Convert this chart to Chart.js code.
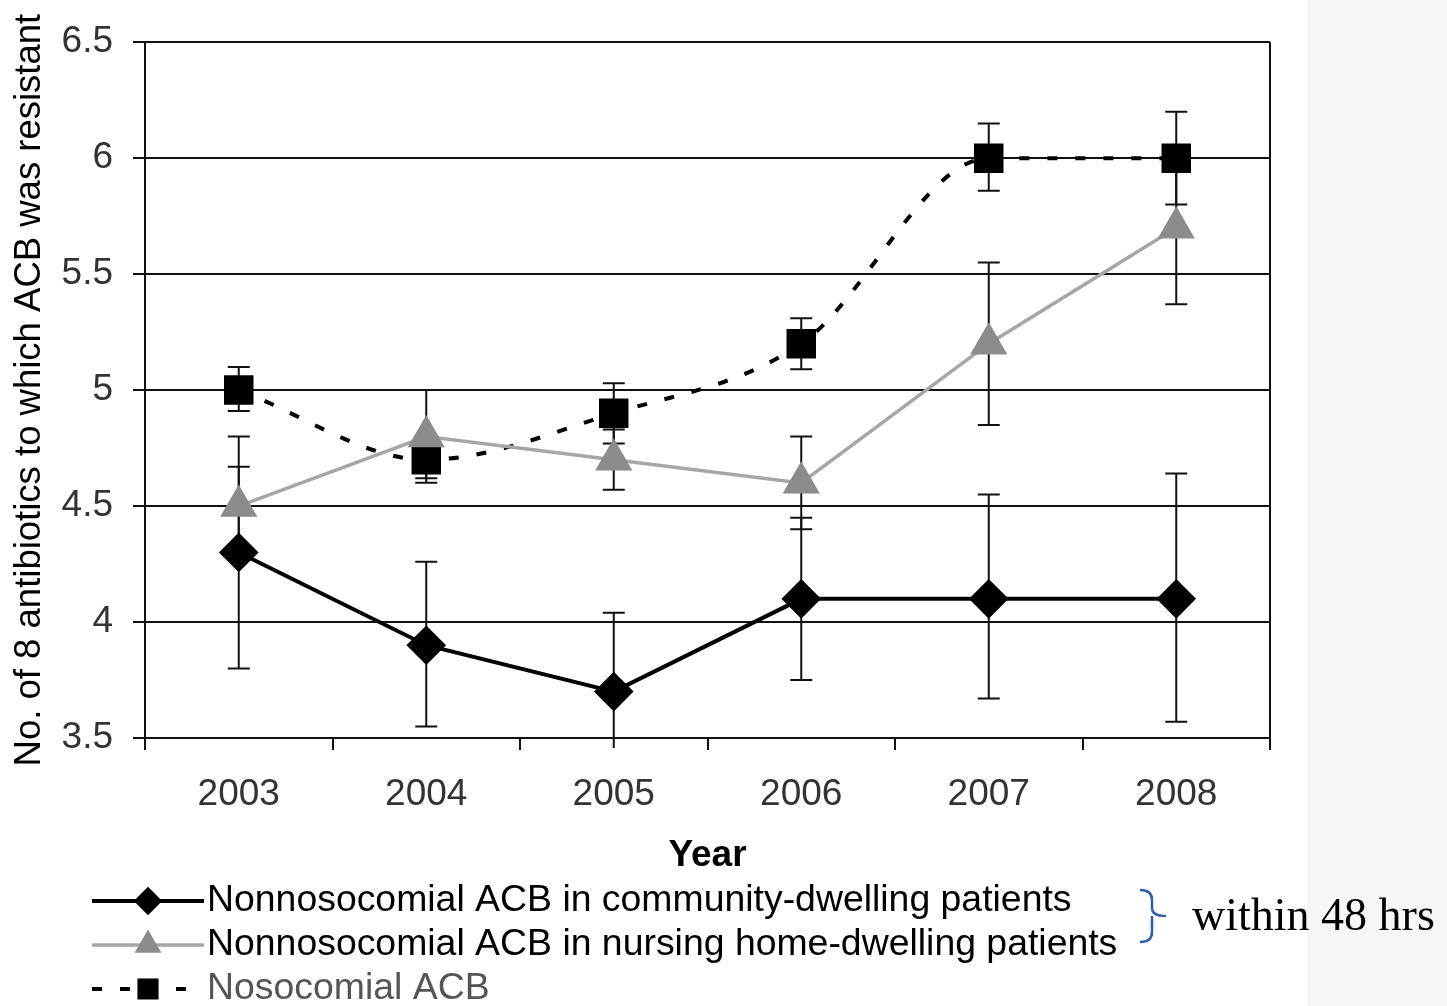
<!DOCTYPE html>
<html>
<head>
<meta charset="utf-8">
<script src="https://cdn.jsdelivr.net/npm/chart.js@4.4.1/dist/chart.umd.min.js"></script>
<style>
html, body { margin: 0; padding: 0; background: #fff; }
#wrap { width: 1447px; height: 1006px; position: relative; }
</style>
</head>
<body>
<div id="wrap"><canvas id="acb-chart"></canvas></div>
<script>
// categories
var years = ['2003', '2004', '2005', '2006', '2007', '2008'];

// y ticks
var yTicks = [3.5, 4, 4.5, 5, 5.5, 6, 6.5];
var yTickLabels = ['3.5', '4', '4.5', '5', '5.5', '6', '6.5'];

// Nonnosocomial ACB in community-dwelling patients
var communityMean = [4.3, 3.9, 3.7, 4.1, 4.1, 4.1];
var communityHigh = [4.8, 4.26, 4.04, 4.45, 4.55, 4.64];
var communityLow  = [3.8, 3.55, 3.36, 3.75, 3.67, 3.57];

// Nonnosocomial ACB in nursing home-dwelling patients
var nursingMean = [4.5, 4.8, 4.7, 4.6, 5.2, 5.7];
var nursingHigh = [4.67, 5.0, 4.83, 4.8, 5.55, 6.03];
var nursingLow  = [4.33, 4.6, 4.57, 4.4, 4.85, 5.37];

// Nosocomial ACB
var nosoMean = [5.0, 4.7, 4.9, 5.2, 6.0, 6.0];
var nosoHigh = [5.1, 4.78, 5.03, 5.31, 6.15, 6.2];
var nosoLow  = [4.91, 4.62, 4.77, 5.09, 5.86, 5.8];

var legendLabels = [
    'Nonnosocomial ACB in community-dwelling patients',
    'Nonnosocomial ACB in nursing home-dwelling patients',
    'Nosocomial ACB'
];

var FONT = "'Liberation Sans', Arial, sans-serif";

// background + grey panel on the right
var backPlugin = {
    id: 'backPlugin',
    beforeDraw: function(chart) {
        var ctx = chart.ctx;
        ctx.save();
        ctx.fillStyle = '#ffffff';
        ctx.fillRect(0, 0, chart.width, chart.height);
        ctx.fillStyle = '#f6f6f6';
        ctx.fillRect(1307, 0, chart.width - 1307, chart.height);
        ctx.restore();
    }
};

// error bars (drawn under the markers)
var errorPlugin = {
    id: 'errorPlugin',
    beforeDatasetsDraw: function(chart) {
        var ctx = chart.ctx;
        var xs = chart.scales.x, ys = chart.scales.y, a = chart.chartArea;
        var sets = [
            { high: communityHigh, low: communityLow },
            { high: nursingHigh, low: nursingLow },
            { high: nosoHigh, low: nosoLow }
        ];
        ctx.save();
        ctx.beginPath();
        ctx.rect(a.left, a.top - 2, a.right - a.left, a.bottom - a.top + 12);
        ctx.clip();
        ctx.strokeStyle = '#111';
        ctx.lineWidth = 2;
        sets.forEach(function(s) {
            for (var i = 0; i < years.length; i++) {
                var px = xs.getPixelForValue(i);
                var yh = ys.getPixelForValue(s.high[i]);
                var yl = ys.getPixelForValue(s.low[i]);
                ctx.beginPath();
                ctx.moveTo(px, yh); ctx.lineTo(px, yl);
                ctx.moveTo(px - 11, yh); ctx.lineTo(px + 11, yh);
                ctx.moveTo(px - 11, yl); ctx.lineTo(px + 11, yl);
                ctx.stroke();
            }
        });
        ctx.restore();
    }
};

// right border, legend, brace note
var notePlugin = {
    id: 'notePlugin',
    afterDraw: function(chart) {
        var ctx = chart.ctx, a = chart.chartArea;
        ctx.save();

        // right border of the plot
        ctx.strokeStyle = '#111';
        ctx.lineWidth = 2;
        ctx.beginPath();
        ctx.moveTo(a.right, a.top);
        ctx.lineTo(a.right, a.bottom);
        ctx.stroke();

        // legend
        var rows = [901, 945, 989];
        var textColors = ['#000', '#000', '#555'];
        chart.data.datasets.forEach(function(ds, i) {
            var y = rows[i];
            ctx.save();
            ctx.strokeStyle = ds.borderColor;
            ctx.lineWidth = ds.borderWidth;
            ctx.setLineDash(ds.borderDash || []);
            ctx.beginPath();
            ctx.moveTo(92, y);
            ctx.lineTo(204, y);
            ctx.stroke();
            ctx.restore();
            ctx.fillStyle = ds.pointBackgroundColor;
            ctx.strokeStyle = ds.pointBackgroundColor;
            Chart.helpers.drawPoint(ctx, {
                pointStyle: ds.pointStyle,
                radius: ds.pointRadius * 0.75,
                rotation: 0,
                borderWidth: 1
            }, 148, y);
            ctx.fillStyle = textColors[i];
            ctx.font = '37.4px ' + FONT;
            ctx.textAlign = 'left';
            ctx.textBaseline = 'middle';
            ctx.fillText(legendLabels[i], 207, y);
        });

        // blue brace
        ctx.strokeStyle = '#2f5fa8';
        ctx.lineWidth = 2.5;
        ctx.beginPath();
        ctx.moveTo(1140, 890);
        ctx.quadraticCurveTo(1152, 890, 1152, 900);
        ctx.lineTo(1152, 908);
        ctx.quadraticCurveTo(1152, 916, 1166, 916);
        ctx.moveTo(1152, 916);
        ctx.quadraticCurveTo(1152, 916, 1152, 924);
        ctx.lineTo(1152, 932);
        ctx.quadraticCurveTo(1152, 942, 1140, 942);
        ctx.stroke();

        ctx.fillStyle = '#000';
        ctx.font = "46px 'Liberation Serif', 'Times New Roman', serif";
        ctx.textAlign = 'left';
        ctx.textBaseline = 'middle';
        ctx.fillText('within 48 hrs', 1192, 918);

        ctx.restore();
    }
};

var ctx = document.getElementById('acb-chart').getContext('2d');
new Chart(ctx, {
    type: 'line',
    data: {
        labels: years,
        datasets: [
            {
                label: legendLabels[0],
                data: communityMean,
                borderColor: '#000',
                borderWidth: 4,
                pointStyle: 'rectRot',
                pointRadius: 17,
                pointBackgroundColor: '#000',
                pointBorderColor: '#000',
                tension: 0
            },
            {
                label: legendLabels[1],
                data: nursingMean,
                borderColor: '#a6a6a6',
                borderWidth: 3.5,
                pointStyle: 'triangle',
                pointRadius: 18,
                pointBackgroundColor: '#8c8c8c',
                pointBorderColor: '#8c8c8c',
                tension: 0
            },
            {
                label: legendLabels[2],
                data: nosoMean,
                borderColor: '#000',
                borderWidth: 4,
                borderDash: [10, 18],
                pointStyle: 'rect',
                pointRadius: 18,
                pointBackgroundColor: '#000',
                pointBorderColor: '#000',
                cubicInterpolationMode: 'monotone'
            }
        ]
    },
    options: {
        responsive: true,
        maintainAspectRatio: false,
        animation: false,
        layout: { padding: { top: 40, right: 177, left: 0, bottom: 0 } },
        plugins: {
            legend: { display: false },
            tooltip: { enabled: false }
        },
        scales: {
            x: {
                offset: true,
                afterFit: function(scale) { scale.height = 268; },
                grid: {
                    offset: true,
                    drawOnChartArea: false,
                    drawTicks: true,
                    tickLength: 12,
                    color: '#111',
                    lineWidth: 2
                },
                border: { display: true, color: '#111', width: 2 },
                ticks: {
                    color: '#333',
                    padding: 23,
                    font: { family: FONT, size: 37 }
                },
                title: {
                    display: true,
                    text: 'Year',
                    color: '#000',
                    padding: { top: 0, bottom: 128 },
                    font: { family: FONT, size: 37, weight: 'bold' }
                }
            },
            y: {
                min: 3.5,
                max: 6.5,
                afterFit: function(scale) { scale.width = 145; },
                afterBuildTicks: function(scale) {
                    scale.ticks = yTicks.map(function(v) { return { value: v }; });
                },
                grid: {
                    color: '#111',
                    lineWidth: 2,
                    tickLength: 12
                },
                border: { display: true, color: '#111', width: 2 },
                ticks: {
                    color: '#333',
                    padding: 20,
                    font: { family: FONT, size: 37 },
                    callback: function(v) { return yTickLabels[yTicks.indexOf(v)]; }
                },
                title: {
                    display: true,
                    text: 'No. of 8 antibiotics to which ACB was resistant',
                    color: '#000',
                    padding: { top: 8, bottom: 0 },
                    font: { family: FONT, size: 36.5 }
                }
            }
        }
    },
    plugins: [backPlugin, errorPlugin, notePlugin]
});
</script>
</body>
</html>
